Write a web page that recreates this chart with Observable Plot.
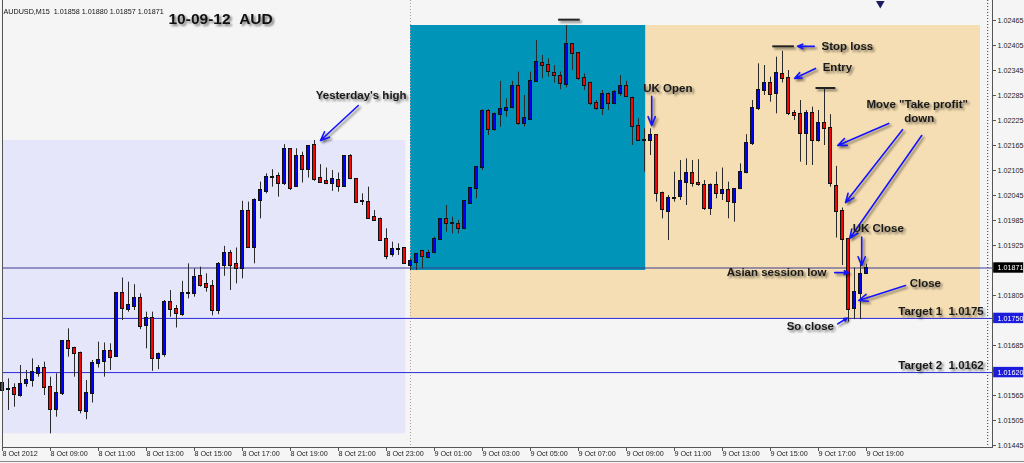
<!DOCTYPE html>
<html>
<head>
<meta charset="utf-8">
<script src="https://cdn.jsdelivr.net/npm/d3@7"></script>
<script src="https://cdn.jsdelivr.net/npm/@observablehq/plot@0.6"></script>
<style>
  html, body { margin: 0; padding: 0; background: #ffffff; }
  #chart { width: 1024px; height: 463px; overflow: hidden; position: relative; }
  #chart::after { content: ""; position: absolute; left: 0; right: 0; top: 461px; height: 1px; background: #8a8a8a; }
  svg g[aria-description="shadowed"] { filter: drop-shadow(2px 2px 1.2px rgba(0, 0, 0, 0.5)); }
</style>
</head>
<body>
<div id="chart"></div>
<script>
// AUDUSD M15 bars, one per 15 minutes, bar 0 = 8 Oct 2012 07:00
const barOpen = [
  1.01593, 1.01579, 1.01581, 1.01565, 1.01595, 1.01601, 1.01619, 1.01631, 1.01585, 1.01531,
  1.01571, 1.01695, 1.01677, 1.01667, 1.01527, 1.01569, 1.01643, 1.01647, 1.01671, 1.01659,
  1.01811, 1.01771, 1.01779, 1.01797, 1.01733, 1.01751, 1.01653, 1.01663, 1.01789, 1.01771,
  1.01759, 1.01809, 1.01811, 1.01851, 1.01831, 1.01827, 1.01769, 1.01878, 1.01905, 1.01879,
  1.01871, 1.02007, 1.01921, 1.02033, 1.02055, 1.02089, 1.02091, 1.02075, 1.02155, 1.02067,
  1.02139, 1.02107, 1.02165, 1.02085, 1.02079, 1.02075, 1.02081, 1.02067, 1.02139, 1.02083,
  1.02030, 1.02029, 1.01993, 1.01987, 1.01939, 1.01903, 1.01916, 1.01917, 1.01877, 1.01885,
  1.01911, 1.01897, 1.01909, 1.01939, 1.01987, 1.01977, 1.01975, 1.01965, 1.02027, 1.02061,
  1.02113, 1.02247, 1.02203, 1.02239, 1.02249, 1.02257, 1.02307, 1.02219, 1.02227, 1.02319,
  1.02363, 1.02357, 1.02337, 1.02331, 1.02311, 1.02407, 1.02385, 1.02325, 1.02313, 1.02265,
  1.02255, 1.02287, 1.02267, 1.02291, 1.02307, 1.02279, 1.02211, 1.02177, 1.02177, 1.02189,
  1.02051, 1.02007, 1.02039, 1.02043, 1.02077, 1.02099, 1.02075, 1.02069, 1.02013, 1.02069,
  1.02049, 1.02057, 1.02029, 1.02061, 1.02101, 1.02169, 1.02255, 1.02297, 1.02313, 1.02289,
  1.02335, 1.02325, 1.02241, 1.02239, 1.02193, 1.02243, 1.02177, 1.02217, 1.02207, 1.02067,
  1.02007, 1.01939, 1.01773, 1.01811, 1.01858
];
const barHigh = [
  1.01641, 1.01605, 1.01593, 1.01637, 1.01625, 1.01653, 1.01637, 1.01645, 1.01609, 1.01617,
  1.01697, 1.01725, 1.01681, 1.01669, 1.01601, 1.01649, 1.01693, 1.01691, 1.01689, 1.01812,
  1.01847, 1.01837, 1.01831, 1.01809, 1.01765, 1.01765, 1.01667, 1.01793, 1.01817, 1.01781,
  1.01839, 1.01881, 1.01869, 1.01873, 1.01857, 1.01841, 1.01884, 1.01923, 1.01913, 1.01919,
  1.02031, 1.02029, 1.02037, 1.02077, 1.02097, 1.02107, 1.02099, 1.02167, 1.02157, 1.02157,
  1.02149, 1.02165, 1.02177, 1.02119, 1.02111, 1.02105, 1.02099, 1.02141, 1.02143, 1.02085,
  1.02049, 1.02065, 1.02009, 1.01991, 1.01965, 1.01933, 1.01929, 1.01919, 1.01893, 1.01905,
  1.01913, 1.01913, 1.01945, 1.01989, 1.02021, 1.01993, 1.01985, 1.02033, 1.02063, 1.02115,
  1.02251, 1.02251, 1.02243, 1.02319, 1.02277, 1.02319, 1.02341, 1.02285, 1.02341, 1.02417,
  1.02381, 1.02373, 1.02357, 1.02341, 1.02453, 1.02409, 1.02387, 1.02337, 1.02317, 1.02273,
  1.02297, 1.02291, 1.02297, 1.02333, 1.02319, 1.02281, 1.02229, 1.02205, 1.02205, 1.02191,
  1.02053, 1.02045, 1.02101, 1.02129, 1.02133, 1.02129, 1.02131, 1.02081, 1.02073, 1.02101,
  1.02111, 1.02077, 1.02061, 1.02121, 1.02191, 1.02273, 1.02361, 1.02357, 1.02329, 1.02377,
  1.02391, 1.02345, 1.02249, 1.02273, 1.02249, 1.02257, 1.02249, 1.02303, 1.02239, 1.02115,
  1.02015, 1.01939, 1.01871, 1.01881, 1.01880
];
const barLow = [
  1.01565, 1.01529, 1.01537, 1.01561, 1.01585, 1.01585, 1.01609, 1.01565, 1.01473, 1.01513,
  1.01565, 1.01657, 1.01609, 1.01521, 1.01507, 1.01547, 1.01631, 1.01609, 1.01625, 1.01657,
  1.01745, 1.01765, 1.01769, 1.01723, 1.01677, 1.01623, 1.01627, 1.01657, 1.01753, 1.01727,
  1.01755, 1.01797, 1.01801, 1.01825, 1.01813, 1.01756, 1.01759, 1.01851, 1.01817, 1.01833,
  1.01845, 1.01919, 1.01881, 1.01989, 1.02049, 1.02065, 1.02041, 1.02069, 1.02057, 1.02067,
  1.02075, 1.02087, 1.02079, 1.02075, 1.02071, 1.02055, 1.02053, 1.02065, 1.02083, 1.02027,
  1.02021, 1.01989, 1.01983, 1.01935, 1.01891, 1.01897, 1.01901, 1.01881, 1.01865, 1.01865,
  1.01869, 1.01893, 1.01905, 1.01937, 1.01957, 1.01953, 1.01953, 1.01963, 1.02025, 1.02037,
  1.02105, 1.02189, 1.02199, 1.02209, 1.02233, 1.02253, 1.02213, 1.02209, 1.02225, 1.02317,
  1.02325, 1.02329, 1.02315, 1.02299, 1.02303, 1.02345, 1.02321, 1.02297, 1.02261, 1.02249,
  1.02237, 1.02249, 1.02263, 1.02283, 1.02281, 1.02165, 1.02175, 1.02101, 1.02141, 1.02029,
  1.01989, 1.01937, 1.02029, 1.02033, 1.02021, 1.02065, 1.02067, 1.02009, 1.01997, 1.02037,
  1.02033, 1.01989, 1.01981, 1.02059, 1.02097, 1.02165, 1.02249, 1.02285, 1.02269, 1.02241,
  1.02315, 1.02237, 1.02225, 1.02125, 1.02117, 1.02117, 1.02173, 1.02165, 1.02065, 1.01943,
  1.01877, 1.01741, 1.01747, 1.01747, 1.01857
];
const barClose = [
  1.01577, 1.01580, 1.01567, 1.01591, 1.01601, 1.01621, 1.01631, 1.01585, 1.01531, 1.01571,
  1.01695, 1.01677, 1.01667, 1.01529, 1.01569, 1.01643, 1.01649, 1.01671, 1.01657, 1.01811,
  1.01773, 1.01782, 1.01799, 1.01731, 1.01751, 1.01655, 1.01663, 1.01789, 1.01771, 1.01761,
  1.01810, 1.01811, 1.01848, 1.01829, 1.01825, 1.01769, 1.01879, 1.01905, 1.01877, 1.01871,
  1.02007, 1.01921, 1.02033, 1.02056, 1.02089, 1.02089, 1.02075, 1.02156, 1.02063, 1.02139,
  1.02107, 1.02163, 1.02083, 1.02077, 1.02075, 1.02083, 1.02067, 1.02139, 1.02085, 1.02029,
  1.02030, 1.01991, 1.01985, 1.01937, 1.01899, 1.01915, 1.01916, 1.01883, 1.01887, 1.01903,
  1.01899, 1.01907, 1.01939, 1.01987, 1.01977, 1.01977, 1.01967, 1.02031, 1.02061, 1.02113,
  1.02247, 1.02203, 1.02239, 1.02251, 1.02255, 1.02307, 1.02217, 1.02229, 1.02319, 1.02365,
  1.02357, 1.02343, 1.02333, 1.02313, 1.02407, 1.02385, 1.02325, 1.02309, 1.02265, 1.02255,
  1.02287, 1.02265, 1.02293, 1.02307, 1.02283, 1.02211, 1.02177, 1.02177, 1.02189, 1.02049,
  1.02011, 1.02037, 1.02039, 1.02079, 1.02099, 1.02075, 1.02071, 1.02013, 1.02069, 1.02049,
  1.02057, 1.02031, 1.02060, 1.02100, 1.02169, 1.02255, 1.02297, 1.02313, 1.02287, 1.02337,
  1.02327, 1.02241, 1.02237, 1.02194, 1.02241, 1.02177, 1.02217, 1.02205, 1.02073, 1.02007,
  1.01939, 1.01771, 1.01813, 1.01855, 1.01871
];

// time axis: a label every 8 bars (2 hours)
const timeTickBars = [0, 8, 16, 24, 32, 40, 48, 56, 64, 72, 80, 88, 96, 104, 112, 120, 128, 136, 144];
const timeTickLabels = [
  "8 Oct 2012", "8 Oct 09:00", "8 Oct 11:00", "8 Oct 13:00", "8 Oct 15:00", "8 Oct 17:00",
  "8 Oct 19:00", "8 Oct 21:00", "8 Oct 23:00", "9 Oct 01:00", "9 Oct 03:00", "9 Oct 05:00",
  "9 Oct 07:00", "9 Oct 09:00", "9 Oct 11:00", "9 Oct 13:00", "9 Oct 15:00", "9 Oct 17:00",
  "9 Oct 19:00"
];

// price axis
const priceTicks = [1.02465, 1.02405, 1.02345, 1.02285, 1.02225, 1.02165, 1.02105, 1.02045, 1.01985,
  1.01925, 1.01865, 1.01805, 1.01745, 1.01685, 1.01625, 1.01565, 1.01505, 1.01445];
const priceTickLabels = ["1.02465", "1.02405", "1.02345", "1.02285", "1.02225", "1.02165", "1.02105",
  "1.02045", "1.01985", "1.01925", "", "1.01805", "", "1.01685", "", "1.01565", "1.01505", "1.01445"];

// horizontal levels: current bid, target 1, target 2
const levelPrice = [1.01871, 1.01750, 1.01620];
const levelLabel = ["1.01871", "1.01750", "1.01620"];
const levelColor = ["#3c3c94", "#2a2ad8", "#2a2ad8"];
const levelBoxColor = ["#000000", "#1c1cdc", "#1c1cdc"];

// session boxes: previous day range, Asian session, UK session (bar index span, price span)
const yesterdayBox = {start: 0, end: 67.2, low: 1.01473, high: 1.02177};
const asianBox = {start: 68, end: 107.2, low: 1.01865, high: 1.02453};
const ukBox = {start: 68, end: 163, low: 1.01750, high: 1.02453};

// short level markers (stop loss and session highs)
const markerPrice = [1.02467, 1.02403, 1.02303];
const markerStart = [92.6, 128.3, 135.5];
const markerEnd = [96.2, 131.9, 138.8];

// annotation texts
const noteText = ["Yesterday's high", "UK Open", "Stop loss", "Entry", "Move \"Take profit\"", "down",
  "UK Close", "Asian session low", "Close", "So close", "Target 1\u00a0\u00a01.0175", "Target 2\u00a0\u00a01.0162"];
const noteBar = [52.2, 106.8, 136.5, 136.7, 144.0, 150.3, 141.7, 120.7, 151.2, 130.7, 149.3, 149.3];
const notePrice = [1.02285, 1.02302, 1.02403, 1.02352, 1.02263, 1.02230, 1.01966, 1.01860, 1.01834, 1.01731, 1.01767, 1.01637];

// annotation arrows: tail (bar, price) -> head (bar, price)
const arrowFromBar = [59.3, 108.2, 135.3, 135.5, 147.7, 150.0, 153.2, 143.2, 138.7, 150.5, 139.2];
const arrowFromPrice = [1.02261, 1.02283, 1.02403, 1.02350, 1.02218, 1.02203, 1.02189, 1.01945, 1.01860, 1.01829, 1.01737];
const arrowToBar = [53.0, 108.2, 132.5, 132.0, 139.2, 140.5, 141.2, 143.2, 141.0, 142.7, 140.8];
const arrowToPrice = [1.02177, 1.02213, 1.02403, 1.02326, 1.02165, 1.02028, 1.01942, 1.01877, 1.01860, 1.01793, 1.01751];

// chart shift marker position (bar index)
const shiftBar = 146.3;

const bars = barOpen.map((o, i) => ({i, o, h: barHigh[i], l: barLow[i], c: barClose[i]}));
const notes = noteText.map((t, k) => ({t, x: noteBar[k], y: notePrice[k]}));
const arrows = arrowFromBar.map((x1, k) => ({x1, y1: arrowFromPrice[k], x2: arrowToBar[k], y2: arrowToPrice[k]}));
const markers = markerPrice.map((p, k) => ({p, x1: markerStart[k], x2: markerEnd[k]}));
const levels = levelPrice.map((p, k) => ({p, label: levelLabel[k], color: levelColor[k], box: levelBoxColor[k]}));
const yTicks = priceTicks.map((p, k) => ({p, label: priceTickLabels[k]}));
const xTicks = timeTickBars.map((i, k) => ({i, label: timeTickLabels[k]}));

const BULL = "#0000ff", BEAR = "#ff0000";
const FONT = "'Liberation Sans', Arial, sans-serif";
const axisBar0 = 165.2, axisBar1 = 170.2;   // price label boxes sit right of the frame
const boxHalf = 0.000125;

const chart = Plot.plot({
  width: 1024,
  height: 463,
  marginTop: 0,
  marginLeft: 2,
  marginRight: 31,
  marginBottom: 16,
  style: {background: "#f5f5f5", fontFamily: FONT, overflow: "visible"},
  x: {type: "linear", domain: [0, 165], range: [2, 992], axis: null},
  y: {type: "linear", domain: [1.01445, 1.02465], range: [445, 20], axis: null},
  marks: [
    // session boxes
    Plot.rect([yesterdayBox], {x1: "start", x2: "end", y1: "low", y2: "high", fill: "#e6e6fa"}),
    Plot.rect([ukBox], {x1: "start", x2: "end", y1: "low", y2: "high", fill: "#f5deb3"}),
    Plot.rect([asianBox], {x1: "start", x2: "end", y1: "low", y2: "high", fill: "#0094b8"}),
    // day separator and chart shift line
    Plot.ruleX([68], {stroke: "#b4a0a0", strokeDasharray: "1,2"}),
    Plot.ruleX([164.2], {stroke: "#333", strokeDasharray: "1,2"}),
    // horizontal levels
    Plot.ruleY(levels, {y: "p", stroke: "color", strokeWidth: 1}),
    // candles
    Plot.ruleX(bars, {x: "i", y1: "l", y2: "h", stroke: "#2a2a2a", strokeWidth: 1}),
    Plot.rect(bars, {
      x1: d => d.i - 0.25, x2: d => d.i + 0.25, y1: "o", y2: "c",
      insetTop: -0.5, insetBottom: -0.5,
      fill: d => d.c > d.o ? BULL : d.c < d.o ? BEAR : "#111",
      stroke: "#111", strokeWidth: 1, shapeRendering: "crispEdges"
    }),
    // level markers
    Plot.link(markers, {x1: "x1", x2: "x2", y1: "p", y2: "p", stroke: "#222", strokeWidth: 2, ariaDescription: "shadowed"}),
    // arrows and notes
    Plot.arrow(arrows, {x1: "x1", y1: "y1", x2: "x2", y2: "y2", stroke: "#1414ff", strokeWidth: 1.6,
      headLength: 9, headAngle: 45, ariaDescription: "shadowed"}),
    Plot.text(notes, {x: "x", y: "y", text: "t", textAnchor: "start", fontWeight: "bold", fontSize: 11.5,
      fill: "#1a1a1a", ariaDescription: "shadowed"}),
    // frame: left, right and bottom edges
    Plot.ruleX([0, 165], {stroke: "#555", strokeWidth: 1}),
    Plot.ruleY([1.01445], {stroke: "#555", dy: 2}),
    // chart shift marker
    Plot.dot([shiftBar], {x: d => d, frameAnchor: "top", dy: 3, symbol: "triangle", r: 3.2, rotate: 180,
      fill: "#1c1c60", stroke: "none"}),
    // time axis
    Plot.ruleX(xTicks, {x: "i", insetTop: 447, insetBottom: -4, stroke: "#555"}),
    Plot.text(xTicks, {x: "i", text: "label", frameAnchor: "bottom", dy: 8, dx: 0, textAnchor: "start",
      fontSize: 7.2, fill: "#222"}),
    // price axis
    Plot.ruleY(yTicks, {y: "p", insetLeft: 991, insetRight: -3, stroke: "#555"}),
    Plot.text(yTicks, {y: "p", text: "label", frameAnchor: "right", dx: 4, textAnchor: "start",
      fontSize: 7.2, fill: "#222"}),
    Plot.rect(levels, {x1: axisBar0, x2: axisBar1, y1: d => d.p - boxHalf, y2: d => d.p + boxHalf, fill: "box"}),
    Plot.text(levels, {y: "p", text: "label", frameAnchor: "right", dx: 4, textAnchor: "start",
      fontSize: 7.2, fill: "white"}),
    // header
    Plot.text(["AUDUSD,M15  1.01858 1.01880 1.01857 1.01871"], {frameAnchor: "top-left", dx: 1, dy: 8,
      fontSize: 7.2, fill: "#111", textAnchor: "start"}),
    Plot.text(["10-09-12\u00a0\u00a0AUD"], {frameAnchor: "top-left", dx: 166, dy: 12, fontSize: 15.5,
      fontWeight: "bold", fill: "#111", textAnchor: "start", ariaDescription: "shadowed"})
  ]
});

document.getElementById("chart").appendChild(chart);
</script>
</body>
</html>
